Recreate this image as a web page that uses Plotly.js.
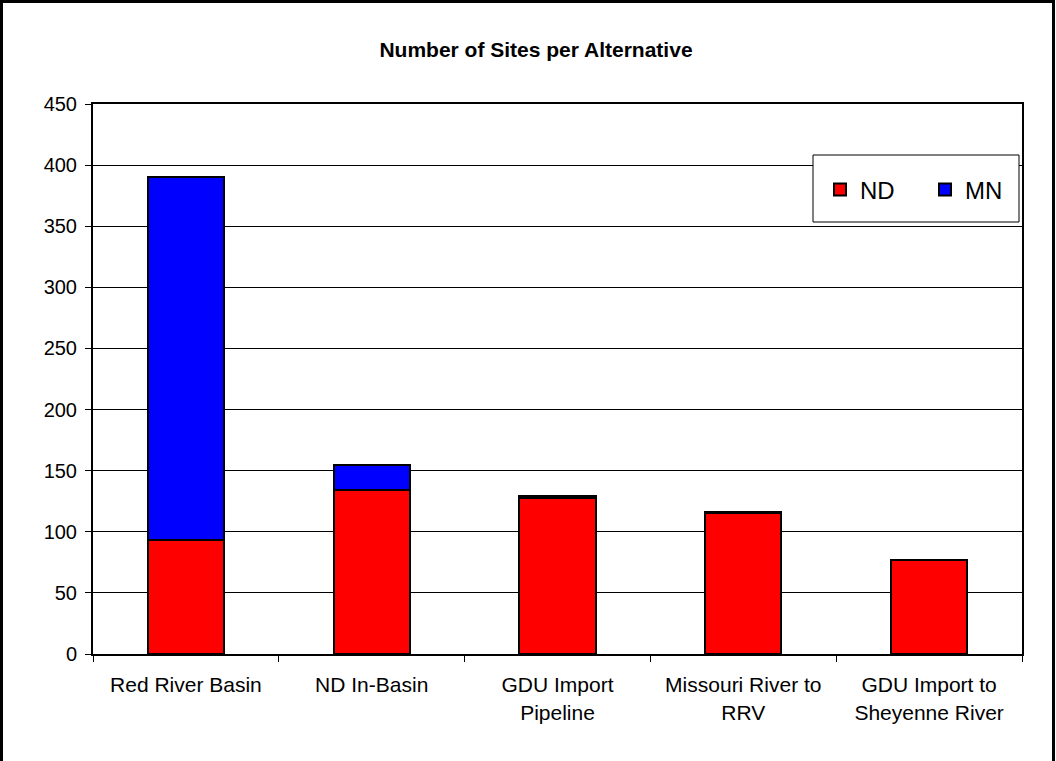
<!DOCTYPE html>
<html>
<head>
<meta charset="utf-8">
<script src="https://cdn.plot.ly/plotly-3.0.1.min.js"></script>
<style>
html,body{margin:0;padding:0;background:#fff;}
#chart{width:1056px;height:761px;}
</style>
</head>
<body>
<div id="chart"></div>
<script>
const categories = ["Red River Basin", "ND In-Basin", "GDU Import<br>Pipeline", "Missouri River to<br>RRV", "GDU Import to<br>Sheyenne River"];
const ndValues = [93, 134, 128, 115, 77];
const mnValues = [297, 21, 1, 1, 0];
const yTicks = [0, 50, 100, 150, 200, 250, 300, 350, 400, 450];

const L = 93, R = 34, T = 104, B = 107, W = 1056, H = 761;
const pw = W - L - R, ph = H - T - B;
const px = v => (v - L) / pw;
const py = v => (H - B - v) / ph;

const traces = [
  {type: "bar", name: "ND", x: categories, y: ndValues,
   marker: {color: "#ff0000", line: {color: "#000000", width: 2}}, width: 0.41},
  {type: "bar", name: "MN", x: categories, y: mnValues,
   marker: {color: "#0000ff", line: {color: "#000000", width: 2}}, width: 0.41}
];

const layout = {
  width: W, height: H,
  margin: {l: L, r: R, t: T, b: B, pad: 0},
  paper_bgcolor: "#ffffff", plot_bgcolor: "#ffffff",
  font: {family: "Liberation Sans, Arial, sans-serif", color: "#000000", size: 20},
  barmode: "stack",
  showlegend: true,
  title: {text: "<b>Number of Sites per Alternative</b>", font: {size: 21, color: "#000"},
          x: 536 / W, xanchor: "center", y: 1 - 50 / H, yanchor: "middle"},
  xaxis: {
    type: "category", tickson: "boundaries", ticks: "outside", ticklen: 6, tickcolor: "#000",
    showgrid: false, showline: true, linecolor: "#000", linewidth: 2, mirror: true,
    tickfont: {size: 21}, ticklabelstandoff: 11, automargin: false, fixedrange: true
  },
  yaxis: {
    range: [0, 450], tickvals: yTicks, ticktext: yTicks.map(String),
    ticks: "outside", ticklen: 6, tickcolor: "#000",
    showgrid: true, gridcolor: "#000", gridwidth: 1,
    showline: true, linecolor: "#000", linewidth: 2, mirror: true, zeroline: false,
    tickfont: {size: 20}, ticklabelstandoff: 4, automargin: false, fixedrange: true
  },
  legend: {
    orientation: "h", x: px(820), xanchor: "left", y: py(190), yanchor: "middle",
    bgcolor: "rgba(0,0,0,0)", borderwidth: 0,
    font: {size: 24}, traceorder: "normal", itemwidth: 30, entrywidth: 60
  },
  shapes: [
    {type: "rect", xref: "paper", yref: "paper",
     x0: px(813), x1: px(1019), y0: py(222), y1: py(155),
     line: {color: "#000", width: 1}, fillcolor: "#ffffff", layer: "above"},
    {type: "rect", xref: "paper", yref: "paper",
     x0: px(1.5), x1: px(W - 2.5),
     y0: -1, y1: py(1.5),
     line: {color: "#000", width: 3}, fillcolor: "rgba(0,0,0,0)", layer: "above"}
  ]
};

Plotly.newPlot("chart", traces, layout, {staticPlot: true, displayModeBar: false});
</script>
</body>
</html>
